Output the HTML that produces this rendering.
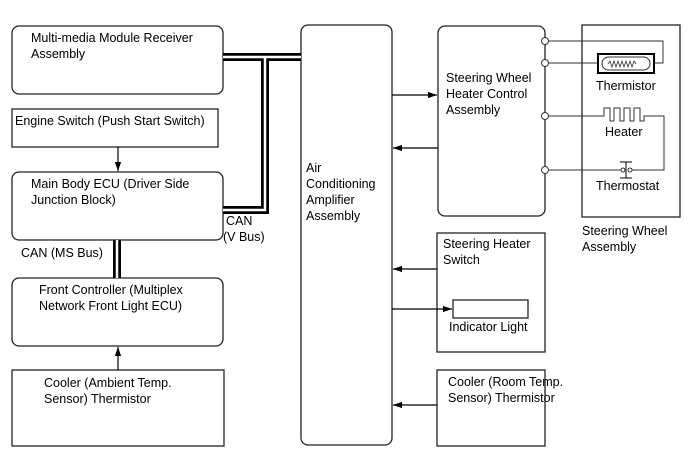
<!DOCTYPE html>
<html><head><meta charset="utf-8"><style>
html,body{margin:0;padding:0;background:#fff;}
svg{display:block;font-family:"Liberation Sans",Arial,sans-serif;font-size:12.5px;}
</style></head><body>
<svg width="690" height="464" viewBox="0 0 690 464" xmlns="http://www.w3.org/2000/svg">
<defs>
<marker id="a" viewBox="0 0 10 10" refX="10" refY="5" markerWidth="9" markerHeight="9" markerUnits="userSpaceOnUse" orient="auto"><path d="M0,1.5 L10,5 L0,8.5 z" fill="#000"/></marker>
</defs>
<g fill="none" stroke="#222" stroke-width="1.3">
<rect x="12" y="26" width="211" height="68" rx="7"/>
<rect x="12" y="109" width="206" height="38"/>
<rect x="12" y="172" width="211" height="68" rx="7"/>
<rect x="12" y="278" width="211" height="68" rx="7"/>
<rect x="12" y="370" width="212" height="76"/>
<rect x="301" y="25" width="91" height="420" rx="7"/>
<rect x="438" y="26" width="107" height="190" rx="7"/>
<rect x="582" y="25" width="98" height="192"/>
<rect x="437" y="233" width="108" height="119"/>
<rect x="437" y="370" width="108" height="76"/>
<rect x="453" y="300" width="75" height="18"/>
</g>
<!-- buses -->
<g fill="none" stroke="#000" stroke-width="8">
<path d="M223,57 H301"/>
<path d="M265,57 V210 H223"/>
<path d="M117,240 V278"/>
</g>
<g fill="none" stroke="#fff" stroke-width="2.5">
<path d="M223,57 H301"/>
<path d="M265,57 V210 H223"/>
<path d="M117,240 V278"/>
</g>
<!-- arrows -->
<g stroke="#000" stroke-width="1.2" fill="none">
<line x1="118" y1="147" x2="118" y2="171" marker-end="url(#a)"/>
<line x1="118" y1="370" x2="118" y2="347" marker-end="url(#a)"/>
<line x1="392" y1="95" x2="437" y2="95" marker-end="url(#a)"/>
<line x1="438" y1="148" x2="393" y2="148" marker-end="url(#a)"/>
<line x1="437" y1="269" x2="393" y2="269" marker-end="url(#a)"/>
<line x1="392" y1="309" x2="452" y2="309" marker-end="url(#a)"/>
<line x1="437" y1="405" x2="393" y2="405" marker-end="url(#a)"/>
</g>
<!-- wheel circuit -->
<g stroke="#333" stroke-width="1" fill="none">
<path d="M545,41 H663 V63 H654"/>
<path d="M545,63 H598"/>
<rect x="598" y="54" width="56" height="19" stroke-width="2" stroke="#000"/>
<rect x="602" y="57" width="48" height="13" rx="6.5"/>
<path d="M608,64 l2,-3 l2,6 l2,-6 l2,6 l2,-6 l2,6 l2,-6 l2,6 l2,-6 l2,6 l2,-6 l2,6 l2,-6 l2,3" stroke-width="0.8"/>
<path d="M545,116 H604 V108 H610 V121 H614 V108 H620 V121 H624 V108 H630 V121 H634 V108 H640 V121 H644 V116 H664 V170 H631"/>
<path d="M545,170 H621"/>
<path d="M620,162 H632 M626,162 V178 M620,178 H632" stroke="#000"/>
</g>
<circle cx="623" cy="170" r="2" fill="#fff" stroke="#000" stroke-width="0.8"/>
<circle cx="630" cy="170" r="2" fill="#fff" stroke="#000" stroke-width="0.8"/>
<g fill="#fff" stroke="#333" stroke-width="1">
<circle cx="545" cy="41" r="3.5"/><circle cx="545" cy="63" r="3.5"/>
<circle cx="545" cy="116" r="3.5"/><circle cx="545" cy="170" r="3.5"/>
</g>
<!-- text -->
<g fill="#000">
<text x="31" y="42">Multi-media Module Receiver</text>
<text x="31" y="58">Assembly</text>
<text x="15" y="125">Engine Switch (Push Start Switch)</text>
<text x="31" y="188">Main Body ECU (Driver Side</text>
<text x="31" y="204">Junction Block)</text>
<text x="226" y="225">CAN</text>
<text x="223" y="241">(V Bus)</text>
<text x="21" y="257">CAN (MS Bus)</text>
<text x="39" y="294">Front Controller (Multiplex</text>
<text x="39" y="310">Network Front Light ECU)</text>
<text x="44" y="387">Cooler (Ambient Temp.</text>
<text x="44" y="403">Sensor) Thermistor</text>
<text x="306" y="172">Air</text>
<text x="306" y="188">Conditioning</text>
<text x="306" y="204">Amplifier</text>
<text x="306" y="220">Assembly</text>
<text x="446" y="82">Steering Wheel</text>
<text x="446" y="98">Heater Control</text>
<text x="446" y="114">Assembly</text>
<text x="596" y="90">Thermistor</text>
<text x="605" y="136">Heater</text>
<text x="596" y="190">Thermostat</text>
<text x="582" y="235">Steering Wheel</text>
<text x="582" y="251">Assembly</text>
<text x="443" y="248">Steering Heater</text>
<text x="443" y="264">Switch</text>
<text x="449" y="331">Indicator Light</text>
<text x="448" y="386">Cooler (Room Temp.</text>
<text x="448" y="402">Sensor) Thermistor</text>
</g>
</svg>
</body></html>
